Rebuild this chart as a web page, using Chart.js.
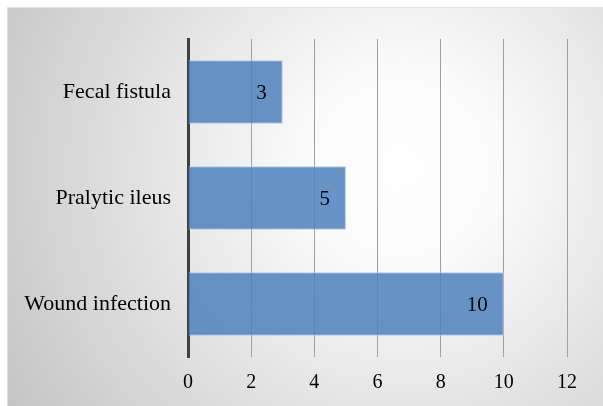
<!DOCTYPE html>
<html>
<head>
<meta charset="utf-8">
<script src="https://cdn.jsdelivr.net/npm/chart.js@4.4.1/dist/chart.umd.min.js"></script>
<style>
  html, body { margin: 0; padding: 0; background: #ffffff; }
  body { width: 603px; height: 406px; overflow: hidden; position: relative; }
  #frame {
    position: absolute; left: 7px; top: 7px; width: 596px; height: 399px;
    box-sizing: border-box;
    border-top: 1px solid #e4e4e4; border-left: 1px solid #e0e0e0;
    background: radial-gradient(circle farthest-corner at 66% 40%, #ffffff 0%, #fafafa 22%, #c4c4c4 100%);
  }
  #chart { position: absolute; left: 0; top: 0; }
</style>
</head>
<body>
<div id="frame"><canvas id="chart" width="595" height="398"></canvas></div>
<script>
// Complications and number of cases
const categories = ['Fecal fistula', 'Pralytic ileus', 'Wound infection'];
const cases = [3, 5, 10];
const xTicks = [0, 2, 4, 6, 8, 10, 12];

const serif = '"Liberation Serif", "Times New Roman", serif';

// Value labels drawn just inside the end of each bar
const barValueLabels = {
  id: 'barValueLabels',
  afterDatasetsDraw(chart) {
    const ctx = chart.ctx;
    const meta = chart.getDatasetMeta(0);
    ctx.save();
    ctx.font = '21px ' + serif;
    ctx.fillStyle = '#000000';
    ctx.textAlign = 'right';
    ctx.textBaseline = 'middle';
    meta.data.forEach((bar, i) => {
      ctx.fillText(String(cases[i]), bar.x - 16, bar.y + 1);
    });
    ctx.restore();
  }
};

new Chart(document.getElementById('chart'), {
  type: 'bar',
  data: {
    labels: categories,
    datasets: [{
      data: cases,
      backgroundColor: 'rgba(79,129,189,0.86)',
      borderColor: 'rgba(170,198,230,0.9)',
      borderWidth: 1,
      borderSkipped: 'left',
      barPercentage: 0.6,
      categoryPercentage: 1.0
    }]
  },
  options: {
    indexAxis: 'y',
    responsive: false,
    animation: false,
    layout: { padding: { top: 31, right: 36, bottom: 0, left: 0 } },
    plugins: { legend: { display: false }, tooltip: { enabled: false } },
    scales: {
      x: {
        min: 0, max: 12,
        afterBuildTicks(axis) { axis.ticks = xTicks.map(v => ({ value: v })); },
        afterFit(axis) { axis.height = 49; },
        grid: { color: '#a0a0a0', lineWidth: 1, drawTicks: false },
        border: { display: false },
        ticks: { color: '#000000', padding: 14, font: { family: serif, size: 20 } }
      },
      y: {
        afterFit(axis) { axis.width = 180; },
        grid: { display: false, drawTicks: false },
        border: { display: true, color: '#3f3f3f', width: 3 },
        ticks: { color: '#000000', padding: 17, font: { family: serif, size: 22 } }
      }
    }
  },
  plugins: [barValueLabels]
});
</script>
</body>
</html>
